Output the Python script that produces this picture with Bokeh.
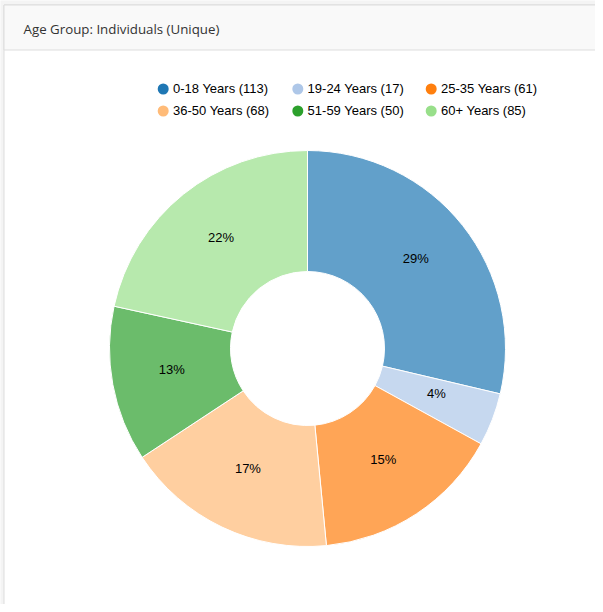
import math
from bokeh.plotting import figure
from bokeh.models import Range1d, ColumnDataSource
from bokeh.core.properties import value
from bokeh.embed import file_html
from bokeh.resources import INLINE

# ---- data ----
categories = ["0-18 Years", "19-24 Years", "25-35 Years", "36-50 Years", "51-59 Years", "60+ Years"]
counts = [113, 17, 61, 68, 50, 85]
colors = ["#1f77b4", "#aec7e8", "#ff7f0e", "#ffbb78", "#2ca02c", "#98df8a"]
title_text = "Age Group: Individuals (Unique)"

W, H = 595, 604


def sy(y):
    return 612 - y  # picture y -> data y


p = figure(width=W, height=H, output_backend="svg", toolbar_location=None,
           x_range=Range1d(0, W), y_range=Range1d(612 - H, 612),
           min_border=0, background_fill_color="#f4f4f4", border_fill_color="#f4f4f4")
p.axis.visible = False
p.grid.visible = False
p.outline_line_color = None

# ---- panel ----
p.quad(left=[3.5], right=[700], top=[sy(4.5)], bottom=[sy(700)],
       fill_color="white", line_color="#dddddd", line_width=1)
p.quad(left=[3.5], right=[700], top=[sy(4.5)], bottom=[sy(49.5)],
       fill_color="#f9f9f9", line_color="#dddddd", line_width=1)
p.text(x=[23], y=[sy(28.5)], text=[title_text], text_font=value("Open Sans"),
       text_font_size="13.3px", text_color="#333333", text_baseline="middle", text_align="left")

# ---- donut ----
cx, cy = 307, sy(348)
r_in, r_out = 77, 198
total = sum(counts)
starts, ends, lx, ly, labels = [], [], [], [], []
cum = 0
for c in counts:
    a0 = math.pi / 2 - 2 * math.pi * cum / total
    cum += c
    a1 = math.pi / 2 - 2 * math.pi * cum / total
    starts.append(a0)
    ends.append(a1)
    mid = (a0 + a1) / 2
    rl = 138
    lx.append(cx + rl * math.cos(mid))
    ly.append(cy + rl * math.sin(mid) + 4)
    labels.append(f"{round(100 * c / total)}%")

src = ColumnDataSource(dict(start=starts, end=ends, color=colors))
p.annular_wedge(x=cx, y=cy, inner_radius=r_in, outer_radius=r_out,
                start_angle="start", end_angle="end", direction="clock",
                fill_color="color", fill_alpha=0.7, line_color="white", line_width=1,
                source=src)
p.text(x=lx, y=ly, text=labels, text_font=value("Liberation Sans"), text_font_size="13px",
       text_color="#000000", text_align="center", text_baseline="middle")

# ---- legend ----
col_x = [162.7, 297.3, 430.7]
row_y = [88.5, 110.5]
leg_x, leg_y, leg_t = [], [], []
for i, (cat, n) in enumerate(zip(categories, counts)):
    r, c = divmod(i, 3)
    leg_x.append(col_x[c])
    leg_y.append(sy(row_y[r]))
    leg_t.append(f"{cat} ({n})")
p.scatter(x=leg_x, y=leg_y, size=11, marker="circle", fill_color=colors, line_color=None)
p.text(x=[x + 9.8 for x in leg_x], y=[y + 1 for y in leg_y], text=leg_t,
       text_font=value("Liberation Sans"), text_font_size="13px", text_color="#000000",
       text_align="left", text_baseline="middle")

open("out.html", "w").write(file_html(p, INLINE))
